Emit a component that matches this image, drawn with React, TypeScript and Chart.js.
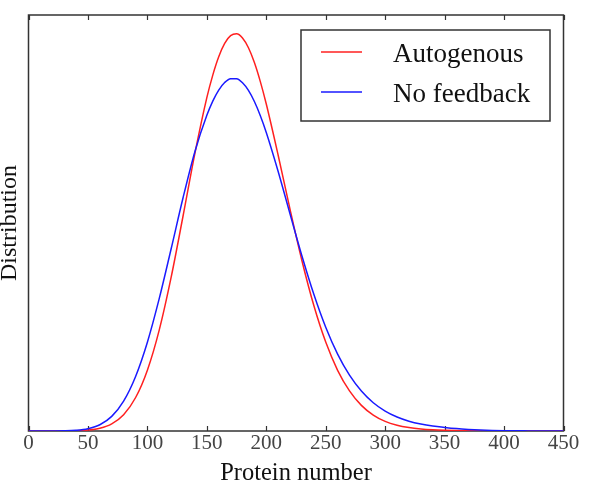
import { useEffect, useRef } from "react";
import { Chart, registerables } from "chart.js";

Chart.register(...registerables);

// Protein number (x): every 10 units, every 5 around the peak
const proteinNumber = [
  0, 10, 20, 30, 40, 50, 60, 70, 80, 90,
  100, 110, 120, 130, 140, 150, 155, 160, 165, 170,
  175, 180, 185, 190, 195, 200, 210, 220, 230, 240,
  250, 260, 270, 280, 290, 300, 310, 320, 330, 340,
  350, 360, 370, 380, 390, 400, 410, 420, 430, 440, 450,
];

// Distribution values (arbitrary units, axis unlabeled)
const autogenous = [
  0.0, 0.0, 0.0, 0.0002, 0.0007, 0.0023, 0.0067, 0.0172, 0.0392, 0.0799,
  0.1463, 0.2432, 0.3698, 0.5168, 0.6678, 0.8013, 0.8555, 0.8996, 0.9317, 0.9503,
  0.9547, 0.9447, 0.9212, 0.8857, 0.8399, 0.7861, 0.6628, 0.5327, 0.4093, 0.3016,
  0.2137, 0.1459, 0.0964, 0.0616, 0.0382, 0.023, 0.0138, 0.0083, 0.005, 0.003,
  0.0018, 0.001, 0.0006, 0.0003, 0.0001, 0.0, 0.0, 0.0, 0.0, 0.0, 0.0,
];

const noFeedback = [
  0.0, 0.0, 0.0001, 0.0004, 0.0017, 0.0056, 0.0151, 0.0352, 0.0719, 0.1306,
  0.2135, 0.3187, 0.4382, 0.5606, 0.672, 0.7588, 0.793, 0.8196, 0.8377, 0.8469,
  0.8467, 0.8372, 0.8188, 0.792, 0.7579, 0.7177, 0.6239, 0.5217, 0.4208, 0.3287,
  0.2495, 0.1849, 0.1342, 0.096, 0.0679, 0.0478, 0.0335, 0.0235, 0.0166, 0.0118,
  0.0085, 0.0058, 0.0039, 0.0025, 0.0015, 0.0009, 0.0005, 0.0003, 0.0001, 0.0, 0.0,
];

const xTicks = [0, 50, 100, 150, 200, 250, 300, 350, 400, 450];
const seriesNames = ["Autogenous", "No feedback"];
const seriesColors = ["#ff2020", "#1a1aff"];
const xTitle = "Protein number";
const yTitle = "Distribution";

const SERIF = "'Liberation Serif', 'Times New Roman', serif";

export default function App() {
  const canvasRef = useRef<HTMLCanvasElement | null>(null);

  useEffect(() => {
    const canvas = canvasRef.current;
    if (!canvas) return;

    const decorPlugin = {
      id: "decor",
      beforeDatasetsDraw(chart: any) {
        const { ctx, chartArea: a } = chart;
        const xs = chart.scales.x;
        ctx.save();
        ctx.strokeStyle = "#333";
        ctx.lineWidth = 1.5;
        ctx.strokeRect(a.left, a.top, a.right - a.left, a.bottom - a.top);
        ctx.lineWidth = 1.2;
        ctx.beginPath();
        for (const t of xTicks) {
          const px = Math.round(xs.getPixelForValue(t)) + 0.5;
          ctx.moveTo(px, a.bottom);
          ctx.lineTo(px, a.bottom - 5);
          ctx.moveTo(px, a.top);
          ctx.lineTo(px, a.top + 5);
        }
        ctx.stroke();
        ctx.restore();
      },
      afterDatasetsDraw(chart: any) {
        const { ctx, chartArea: a } = chart;
        ctx.save();
        // Legend box
        const bx = a.right - 262.5;
        const by = a.top + 15;
        const bw = 249;
        const bh = 91;
        ctx.fillStyle = "#ffffff";
        ctx.fillRect(bx, by, bw, bh);
        ctx.strokeStyle = "#333";
        ctx.lineWidth = 1.5;
        ctx.strokeRect(bx, by, bw, bh);
        ctx.font = `27px ${SERIF}`;
        ctx.textAlign = "left";
        ctx.textBaseline = "alphabetic";
        seriesNames.forEach((name, i) => {
          const ly = by + 22 + i * 40;
          ctx.strokeStyle = seriesColors[i];
          ctx.lineWidth = 1.5;
          ctx.beginPath();
          ctx.moveTo(bx + 20, ly);
          ctx.lineTo(bx + 61, ly);
          ctx.stroke();
          ctx.fillStyle = "#111";
          ctx.fillText(name, bx + 92, ly + 10);
        });
        // Y axis title
        ctx.translate(10, (a.top + a.bottom) / 2);
        ctx.rotate(-Math.PI / 2);
        ctx.font = `24px ${SERIF}`;
        ctx.textAlign = "center";
        ctx.textBaseline = "middle";
        ctx.fillStyle = "#111";
        ctx.fillText(yTitle, 0, 0);
        ctx.restore();
      },
    };

    const chart = new Chart(canvas, {
      type: "line",
      data: {
        datasets: [
          {
            label: seriesNames[0],
            data: proteinNumber.map((x, i) => ({ x, y: autogenous[i] })),
            borderColor: seriesColors[0],
            borderWidth: 1.5,
            pointRadius: 0,
            cubicInterpolationMode: "monotone",
            fill: false,
            order: 1,
          },
          {
            label: seriesNames[1],
            data: proteinNumber.map((x, i) => ({ x, y: noFeedback[i] })),
            borderColor: seriesColors[1],
            borderWidth: 1.5,
            pointRadius: 0,
            cubicInterpolationMode: "monotone",
            fill: false,
            order: 0,
          },
        ],
      },
      options: {
        responsive: false,
        animation: false,
        devicePixelRatio: 1,
        layout: { padding: { left: 28.5, right: 34.5, top: 15, bottom: 0 } },
        plugins: {
          legend: { display: false },
          tooltip: { enabled: false },
        },
        scales: {
          x: {
            type: "linear",
            min: 0,
            max: 450,
            afterFit(scale: any) {
              scale.height = 60;
            },
            afterBuildTicks(scale: any) {
              scale.ticks = xTicks.map((v) => ({ value: v }));
            },
            ticks: {
              autoSkip: false,
              maxRotation: 0,
              padding: 0,
              color: "#444",
              font: { family: SERIF, size: 21 },
            },
            grid: { display: false, drawTicks: false },
            border: { display: false },
            title: {
              display: true,
              text: xTitle,
              color: "#111",
              font: { family: SERIF, size: 24.5 },
              padding: { top: 0, bottom: 3 },
            },
          },
          y: {
            display: false,
            min: 0,
            max: 1,
          },
        },
      },
      plugins: [decorPlugin],
    });

    return () => chart.destroy();
  }, []);

  return (
    <div style={{ position: "absolute", left: 0, top: 0, width: 598, height: 491, background: "#fff" }}>
      <canvas ref={canvasRef} width={598} height={491} style={{ display: "block" }} />
    </div>
  );
}
